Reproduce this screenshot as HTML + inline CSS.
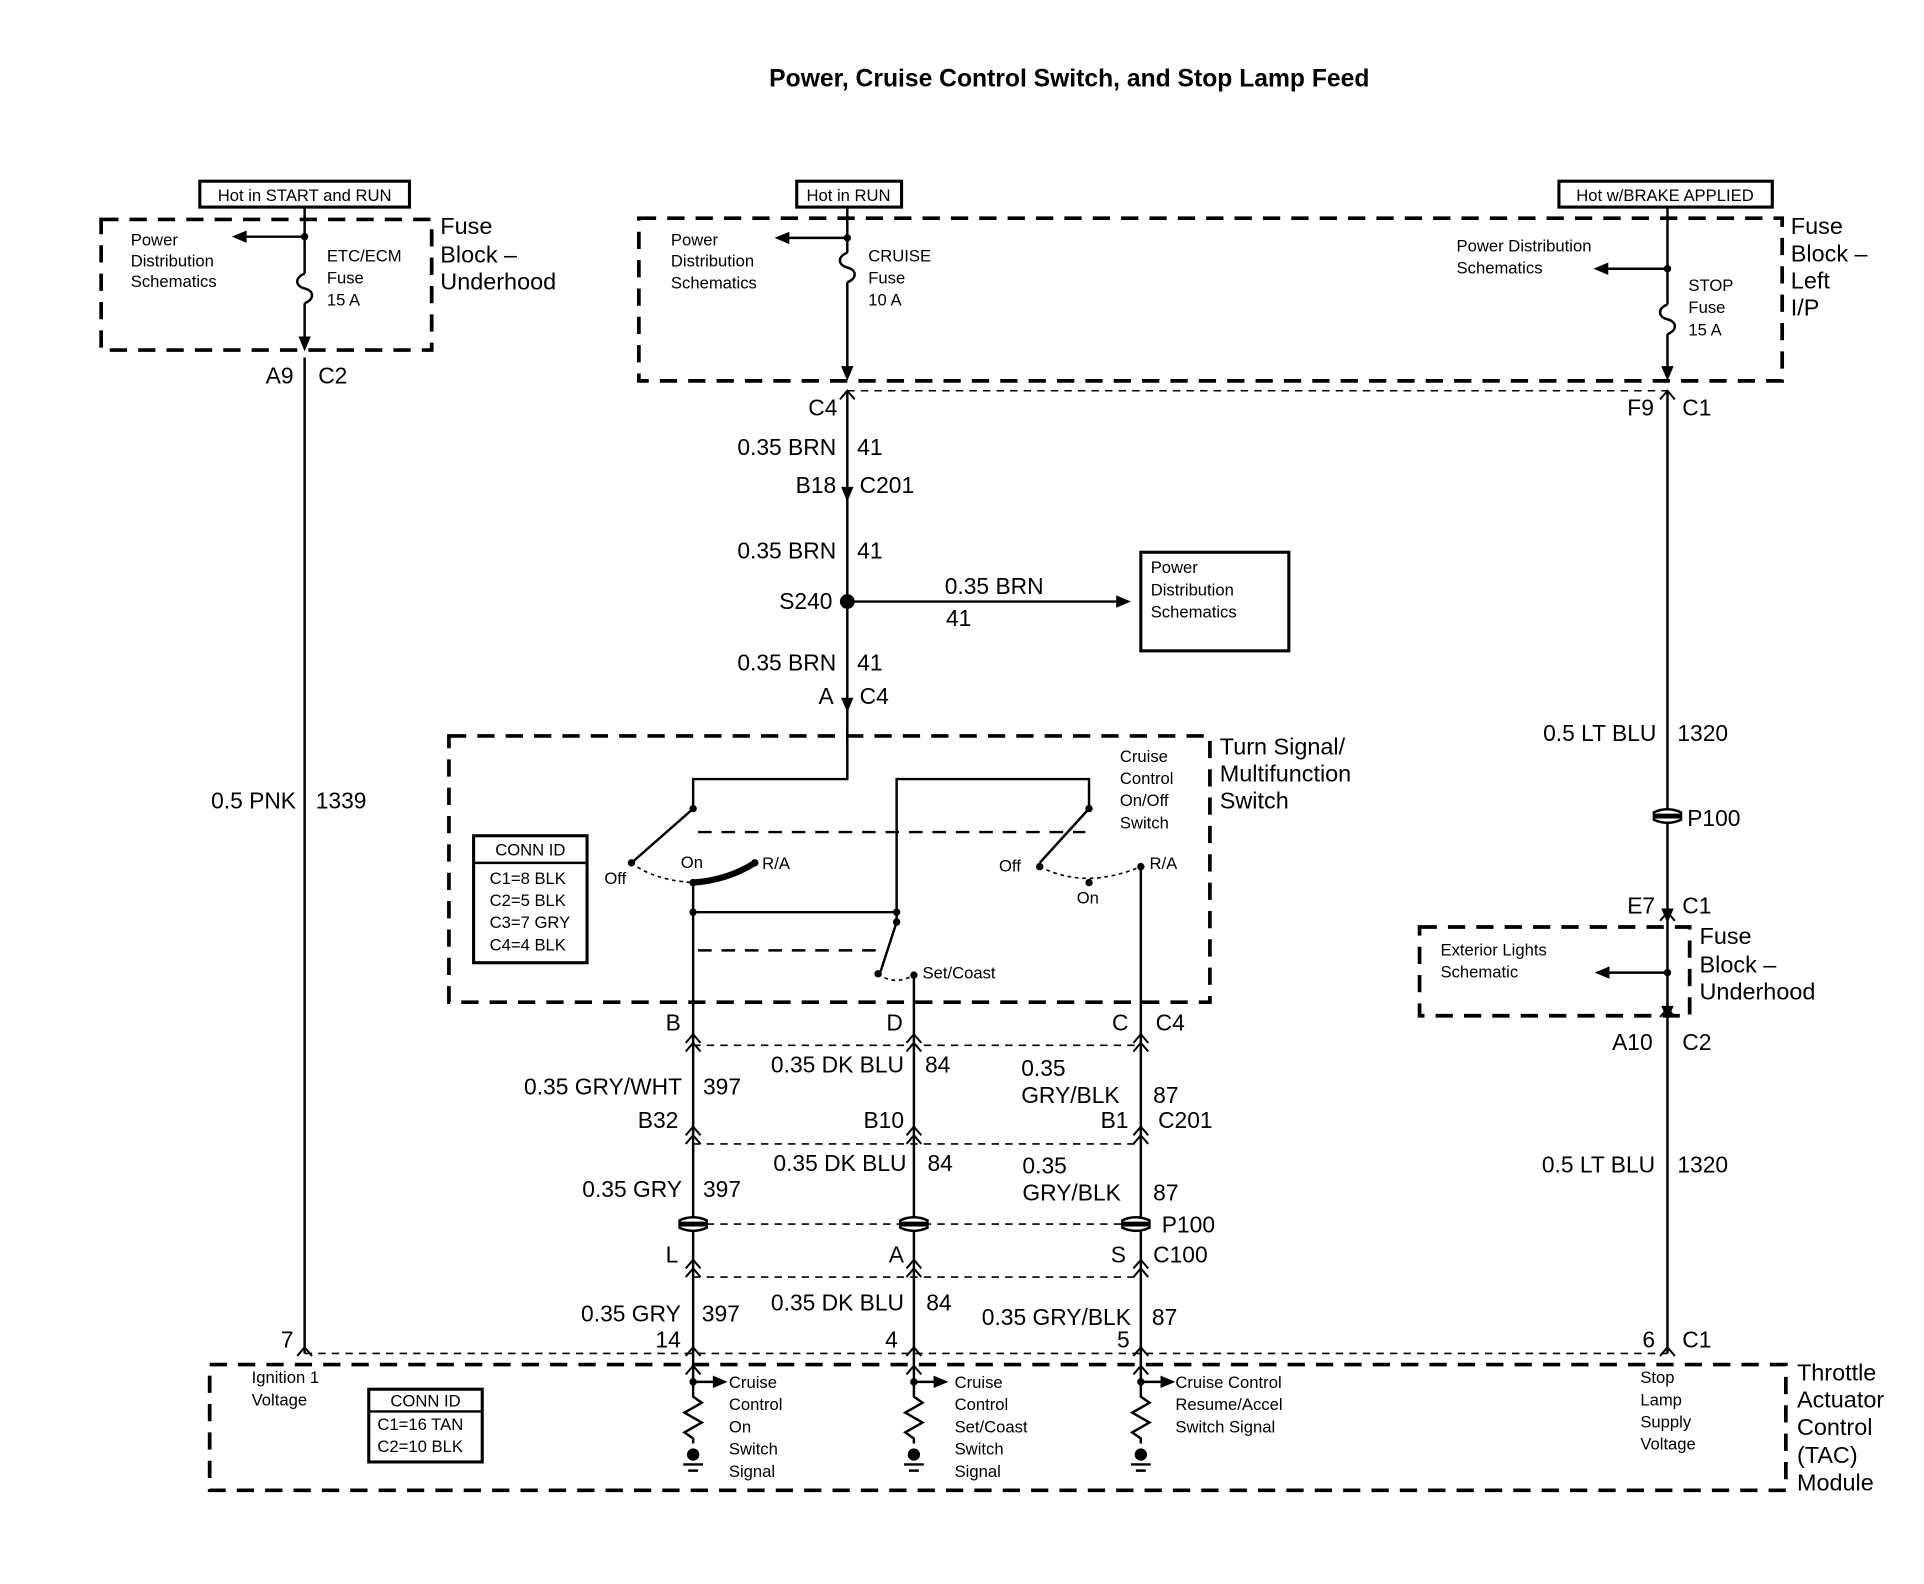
<!DOCTYPE html>
<html><head><meta charset="utf-8"><style>
html,body{margin:0;padding:0;background:#fff}
svg{display:block}
text{font-family:"Liberation Sans",Arial,sans-serif;fill:#000}
.s{font-size:13.5px}
.m{font-size:18.5px}
.b{font-size:19px}
</style></head><body>
<svg width="1924" height="1584" viewBox="0 0 1560 1285" preserveAspectRatio="none" xmlns="http://www.w3.org/2000/svg">
<defs>
<path id="cu" d="M-6,7 L0,0 L6,7" fill="none" stroke="#000" stroke-width="1.6"/>
<g id="cu2"><use href="#cu"/><use href="#cu" y="7"/></g>
<g id="pill"><path d="M-11,-3 Q0,-8 11,-3 L11,-1 L-11,-1Z M-11,3 Q0,8 11,3 L11,1 L-11,1Z" fill="#fff" stroke="#000" stroke-width="2"/></g>
<path id="fuse" d="M0,0 c-8,3 -8,10 0,12 c8,2 8,9 0,12" fill="none" stroke="#000" stroke-width="2"/>
<polygon id="al" points="0,0 12,-5 12,5" fill="#000"/>
<polygon id="ar" points="0,0 -12,-5 -12,5" fill="#000"/>
<polygon id="ad" points="0,0 -5,-12 5,-12" fill="#000"/>
<g id="inp">
<path d="M0,0 L0,22 M0,14 L18,14 M0,22 l0,4 l7,5 l-14,8 l14,8 l-14,8 l7,5 l0,4" fill="none" stroke="#000" stroke-width="2"/>
<use href="#cu" y="1"/>
<polygon points="28,14 16,9 16,19" fill="#000"/>
<circle cx="0" cy="14" r="3"/>
<circle cx="0" cy="73" r="5"/>
<path d="M-8,81 H8 M-4,86 H4" stroke="#000" stroke-width="2"/>
</g>
</defs>

<text x="867" y="70" text-anchor="middle" style="font-size:20px;font-weight:bold">Power, Cruise Control Switch, and Stop Lamp Feed</text>

<g fill="none" stroke="#000" stroke-width="3" stroke-dasharray="14,9">
<rect x="82" y="178" width="268" height="106"/>
<rect x="518" y="177" width="927" height="132"/>
<rect x="364" y="597" width="617" height="216"/>
<rect x="1151" y="752" width="219" height="72"/>
<path d="M170,1107 H1448 V1209 H170 Z"/>
</g>
<g fill="none" stroke="#000" stroke-width="1.3" stroke-dasharray="6,5">
<path d="M687,317 H1352"/>
<path d="M247,1098 H1352"/>
<path d="M562,848 H925 M562,928 H925 M562,993 H925 M562,1036 H925"/>
</g>
<g fill="none" stroke="#000" stroke-width="2" stroke-dasharray="11,8">
<path d="M566,675 H880"/>
<path d="M566,771 H712"/>
</g>

<g fill="none" stroke="#000" stroke-width="2.5">
<rect x="162" y="147" width="170" height="21"/>
<rect x="646" y="147" width="85" height="21"/>
<rect x="1264" y="147" width="173" height="21"/>
<rect x="925" y="448" width="120" height="80"/>
<rect x="384" y="678" width="92" height="103"/>
<rect x="299" y="1127" width="92" height="59"/>
</g>
<path d="M384,700 H476 M299,1145 H391" stroke="#000" stroke-width="2"/>
<text class="s" x="247" y="163" text-anchor="middle">Hot in START and RUN</text>
<text class="s" x="688" y="163" text-anchor="middle">Hot in RUN</text>
<text class="s" x="1350" y="163" text-anchor="middle">Hot w/BRAKE APPLIED</text>

<g fill="none" stroke="#000" stroke-width="2">
<path d="M247,168 V222 M247,246 V280 M247,290 V1098"/>
<path d="M247,192 H198"/>
<path d="M687,168 V205 M687,229 V305 M687,318 V575 M687,193 H638"/>
<path d="M687,488 H905"/>
<path d="M1352,168 V247 M1352,271 V305 M1352,318 V1098 M1352,218 H1302 M1352,789 H1303"/>
<path d="M687,575 V632 H562 V656 L512,700"/>
<path d="M727,740 V632 H883 V656 L843,700"/>
<path d="M562,716 V1107 M562,740 H727 V748 L714,788"/>
<path d="M741,791 V1107 M925,703 V1107"/>
</g>
<path d="M562,716 Q590,714 612,700" fill="none" stroke="#000" stroke-width="5"/>
<g fill="none" stroke="#000" stroke-width="1.3" stroke-dasharray="3,3">
<path d="M512,700 Q530,714 562,716"/>
<path d="M843,703 Q880,722 925,703"/>
<path d="M712,790 Q725,800 741,791"/>
</g>
<g>
<circle cx="247" cy="192" r="3"/><circle cx="687" cy="193" r="3"/><circle cx="1352" cy="218" r="3"/><circle cx="1352" cy="789" r="3"/>
<circle cx="562" cy="656" r="3"/><circle cx="512" cy="700" r="3"/><circle cx="562" cy="716" r="3"/><circle cx="612" cy="700" r="3"/>
<circle cx="562" cy="740" r="3"/><circle cx="727" cy="740" r="3"/><circle cx="727" cy="748" r="3"/><circle cx="712" cy="790" r="3"/><circle cx="741" cy="791" r="3"/>
<circle cx="883" cy="656" r="3"/><circle cx="843" cy="703" r="3"/><circle cx="883" cy="716" r="3"/><circle cx="925" cy="703" r="3"/>
<circle cx="687" cy="488" r="6"/>
</g>
<use href="#fuse" x="247" y="222"/><use href="#fuse" x="687" y="205"/><use href="#fuse" x="1352" y="247"/>
<use href="#al" x="188" y="192"/><use href="#al" x="628" y="193"/><use href="#al" x="1292" y="218"/><use href="#al" x="1293" y="789"/>
<use href="#ar" x="917" y="488"/>
<use href="#ad" x="247" y="285"/><use href="#ad" x="687" y="309"/><use href="#ad" x="1352" y="309"/>
<use href="#ad" x="687" y="407"/><use href="#ad" x="687" y="578"/><use href="#ad" x="1352" y="749"/><use href="#ad" x="1352" y="828"/>
<use href="#cu" x="687" y="317"/><use href="#cu" x="1352" y="317"/><use href="#cu" x="1352" y="740"/><use href="#cu" x="1352" y="818"/>
<use href="#cu" x="247" y="1093"/><use href="#cu" x="1352" y="1093"/><use href="#cu" x="562" y="1093"/><use href="#cu" x="741" y="1093"/><use href="#cu" x="925" y="1093"/>
<use href="#cu2" x="562" y="839"/><use href="#cu2" x="741" y="839"/><use href="#cu2" x="925" y="839"/>
<use href="#cu2" x="562" y="914"/><use href="#cu2" x="741" y="914"/><use href="#cu2" x="925" y="914"/>
<use href="#cu2" x="562" y="1022"/><use href="#cu2" x="741" y="1022"/><use href="#cu2" x="925" y="1022"/>
<use href="#pill" x="562" y="993"/><use href="#pill" x="741" y="993"/><use href="#pill" x="921" y="993"/><use href="#pill" x="1352" y="662"/>
<use href="#inp" x="562" y="1107"/><use href="#inp" x="741" y="1107"/><use href="#inp" x="925" y="1107"/>

<g class="s">
<text x="106" y="199">Power</text><text x="106" y="216">Distribution</text><text x="106" y="233">Schematics</text>
<text x="265" y="212">ETC/ECM</text><text x="265" y="230">Fuse</text><text x="265" y="248">15 A</text>
<text x="544" y="199">Power</text><text x="544" y="216">Distribution</text><text x="544" y="234">Schematics</text>
<text x="704" y="212">CRUISE</text><text x="704" y="230">Fuse</text><text x="704" y="248">10 A</text>
<text x="1181" y="204">Power Distribution</text><text x="1181" y="222">Schematics</text>
<text x="1369" y="236">STOP</text><text x="1369" y="254">Fuse</text><text x="1369" y="272">15 A</text>
<text x="933" y="465">Power</text><text x="933" y="483">Distribution</text><text x="933" y="501">Schematics</text>
<text x="908" y="618">Cruise</text><text x="908" y="636">Control</text><text x="908" y="654">On/Off</text><text x="908" y="672">Switch</text>
<text x="430" y="694" text-anchor="middle">CONN ID</text>
<text x="397" y="717">C1=8 BLK</text><text x="397" y="735">C2=5 BLK</text><text x="397" y="753">C3=7 GRY</text><text x="397" y="771">C4=4 BLK</text>
<text x="490" y="717">Off</text><text x="552" y="704">On</text><text x="618" y="705">R/A</text>
<text x="810" y="707">Off</text><text x="873" y="733">On</text><text x="932" y="705">R/A</text>
<text x="748" y="794">Set/Coast</text>
<text x="1168" y="775">Exterior Lights</text><text x="1168" y="793">Schematic</text>
<text x="204" y="1122">Ignition 1</text><text x="204" y="1140">Voltage</text>
<text x="345" y="1141" text-anchor="middle">CONN ID</text>
<text x="306" y="1160">C1=16 TAN</text><text x="306" y="1178">C2=10 BLK</text>
<text x="591" y="1126">Cruise</text><text x="591" y="1144">Control</text><text x="591" y="1162">On</text><text x="591" y="1180">Switch</text><text x="591" y="1198">Signal</text>
<text x="774" y="1126">Cruise</text><text x="774" y="1144">Control</text><text x="774" y="1162">Set/Coast</text><text x="774" y="1180">Switch</text><text x="774" y="1198">Signal</text>
<text x="953" y="1126">Cruise Control</text><text x="953" y="1144">Resume/Accel</text><text x="953" y="1162">Switch Signal</text>
<text x="1330" y="1122">Stop</text><text x="1330" y="1140">Lamp</text><text x="1330" y="1158">Supply</text><text x="1330" y="1176">Voltage</text>
</g>

<g class="b">
<text x="357" y="190">Fuse</text><text x="357" y="213">Block –</text><text x="357" y="235">Underhood</text>
<text x="1452" y="190">Fuse</text><text x="1452" y="212">Block –</text><text x="1452" y="234">Left</text><text x="1452" y="256">I/P</text>
<text x="989" y="612">Turn Signal/</text><text x="989" y="634">Multifunction</text><text x="989" y="656">Switch</text>
<text x="1378" y="766">Fuse</text><text x="1378" y="789">Block –</text><text x="1378" y="811">Underhood</text>
<text x="1457" y="1120">Throttle</text><text x="1457" y="1142">Actuator</text><text x="1457" y="1164">Control</text><text x="1457" y="1187">(TAC)</text><text x="1457" y="1209">Module</text>
</g>
<g class="m">
<text x="238" y="311" text-anchor="end">A9</text><text x="258" y="311">C2</text>
<text x="240" y="656" text-anchor="end">0.5 PNK</text><text x="256" y="656">1339</text>
<text x="238" y="1093" text-anchor="end">7</text>
<text x="679" y="337" text-anchor="end">C4</text>
<text x="678" y="369" text-anchor="end">0.35 BRN</text><text x="695" y="369">41</text>
<text x="678" y="400" text-anchor="end">B18</text><text x="697" y="400">C201</text>
<text x="678" y="453" text-anchor="end">0.35 BRN</text><text x="695" y="453">41</text>
<text x="675" y="494" text-anchor="end">S240</text>
<text x="766" y="482">0.35 BRN</text><text x="767" y="508">41</text>
<text x="678" y="544" text-anchor="end">0.35 BRN</text><text x="695" y="544">41</text>
<text x="676" y="571" text-anchor="end">A</text><text x="697" y="571">C4</text>
<text x="1341" y="337" text-anchor="end">F9</text><text x="1364" y="337">C1</text>
<text x="1343" y="601" text-anchor="end">0.5 LT BLU</text><text x="1360" y="601">1320</text>
<text x="1368" y="670">P100</text>
<text x="1342" y="741" text-anchor="end">E7</text><text x="1364" y="741">C1</text>
<text x="1340" y="852" text-anchor="end">A10</text><text x="1364" y="852">C2</text>
<text x="1342" y="951" text-anchor="end">0.5 LT BLU</text><text x="1360" y="951">1320</text>
<text x="1342" y="1093" text-anchor="end">6</text><text x="1364" y="1093">C1</text>
<text x="552" y="836" text-anchor="end">B</text><text x="732" y="836" text-anchor="end">D</text><text x="915" y="836" text-anchor="end">C</text><text x="937" y="836">C4</text>
<text x="553" y="888" text-anchor="end">0.35 GRY/WHT</text><text x="570" y="888">397</text>
<text x="733" y="870" text-anchor="end">0.35 DK BLU</text><text x="750" y="870">84</text>
<text x="828" y="873">0.35</text><text x="828" y="895">GRY/BLK</text><text x="935" y="895">87</text>
<text x="550" y="915" text-anchor="end">B32</text><text x="733" y="915" text-anchor="end">B10</text><text x="915" y="915" text-anchor="end">B1</text><text x="939" y="915">C201</text>
<text x="735" y="950" text-anchor="end">0.35 DK BLU</text><text x="752" y="950">84</text>
<text x="553" y="971" text-anchor="end">0.35 GRY</text><text x="570" y="971">397</text>
<text x="829" y="952">0.35</text><text x="829" y="974">GRY/BLK</text><text x="935" y="974">87</text>
<text x="942" y="1000">P100</text>
<text x="550" y="1024" text-anchor="end">L</text><text x="733" y="1024" text-anchor="end">A</text><text x="913" y="1024" text-anchor="end">S</text><text x="935" y="1024">C100</text>
<text x="552" y="1072" text-anchor="end">0.35 GRY</text><text x="569" y="1072">397</text>
<text x="733" y="1063" text-anchor="end">0.35 DK BLU</text><text x="751" y="1063">84</text>
<text x="917" y="1075" text-anchor="end">0.35 GRY/BLK</text><text x="934" y="1075">87</text>
<text x="552" y="1093" text-anchor="end">14</text><text x="728" y="1093" text-anchor="end">4</text><text x="916" y="1093" text-anchor="end">5</text>
</g>
</svg>
</body></html>
